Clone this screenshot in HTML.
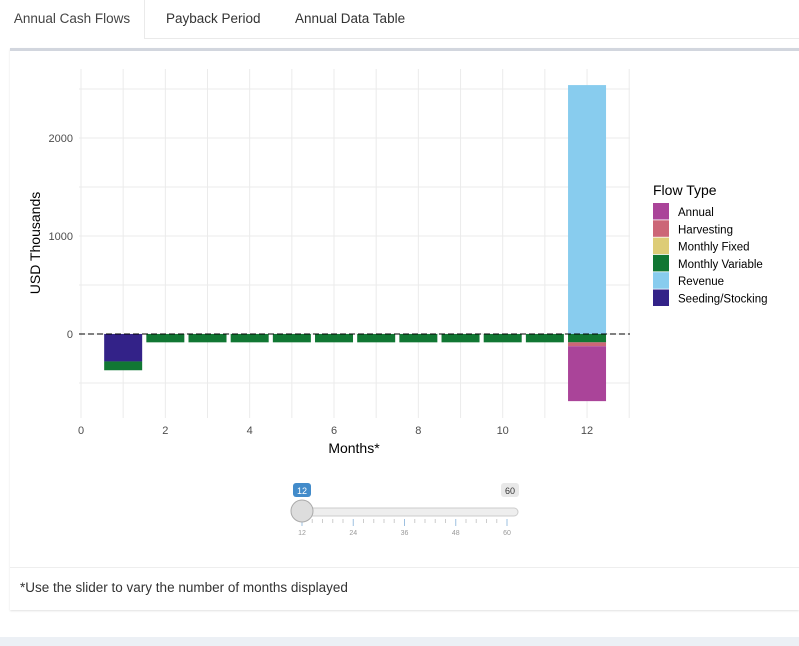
<!DOCTYPE html>
<html><head><meta charset="utf-8"><style>
body{margin:0;width:799px;height:646px;background:#fff;font-family:"Liberation Sans",sans-serif;position:relative;overflow:hidden}
.tab{position:absolute;top:0;height:38px;line-height:38px;font-size:13.5px;color:#333}
</style></head><body>
<div style="position:absolute;left:0;top:38px;width:799px;height:1px;background:#eaeaea"></div>
<div class="tab" style="left:0;width:144px;background:#fff;border-right:1px solid #eaeaea;height:39px;text-align:center;color:#444">Annual Cash Flows</div>
<div class="tab" style="left:166px">Payback Period</div>
<div class="tab" style="left:295px">Annual Data Table</div>
<div style="position:absolute;left:10px;top:48px;width:789px;height:559px;border-top:3px solid #d2d6de;box-shadow:0 1px 2px rgba(0,0,0,.12);background:#fff"></div>
<div style="position:absolute;left:10px;top:567px;width:789px;height:1px;background:#eee"></div>
<div style="position:absolute;left:20px;top:580px;font-size:13.5px;color:#333">*Use the slider to vary the number of months displayed</div>
<div style="position:absolute;left:0;top:637px;width:799px;height:9px;background:#ecf0f5"></div>
<svg id="chart" width="799" height="470" style="position:absolute;left:0;top:0"></svg>
<svg id="slider" width="799" height="60" style="position:absolute;left:0;top:480px">
<rect x="297" y="28" width="221" height="8" rx="4" fill="#eee" stroke="#ccc"/>
<rect x="293" y="3" width="18" height="14" rx="3" fill="#428bca"/>
<text x="302" y="14" font-size="9" fill="#fff" text-anchor="middle">12</text>
<rect x="501" y="3" width="18" height="14" rx="3" fill="#e8e8e8"/>
<text x="510" y="14" font-size="9" fill="#333" text-anchor="middle">60</text>
<g id="sticks"></g>
<circle cx="302" cy="31" r="11" fill="#ddd" stroke="#aaa"/>
</svg>
<script>
const months=[1,2,3,4,5,6,7,8,9,10,11,12];
const seeding=[-280,0,0,0,0,0,0,0,0,0,0,0];
const monthlyVariable=[-90,-85,-85,-85,-85,-85,-85,-85,-85,-85,-85,-85];
const harvesting=[0,0,0,0,0,0,0,0,0,0,0,-40];
const annual=[0,0,0,0,0,0,0,0,0,0,0,-560];
const revenue=[0,0,0,0,0,0,0,0,0,0,0,2540];
const yTicks=[0,1000,2000];
const xTicks=[0,2,4,6,8,10,12];
const NS="http://www.w3.org/2000/svg";
const svg=document.getElementById('chart');
const X=v=>81+v*42.17, Y=v=>334-v*0.098;
function el(t,a,p){const e=document.createElementNS(NS,t);for(const k in a)e.setAttribute(k,a[k]);(p||svg).appendChild(e);return e;}
const L=79,R=630,T=69,B=418;
for(let v=-500;v<=2500;v+=500){const g=el('line',{x1:L,x2:R,y1:Y(v),y2:Y(v),stroke:'#ebebeb'});}
for(let v=0;v<=13;v++){const g=el('line',{x1:X(v),x2:X(v),y1:T,y2:B,stroke:'#ebebeb'});}
yTicks.forEach(v=>{const t=el('text',{x:73,y:Y(v)+4,'font-size':11,fill:'#4d4d4d','text-anchor':'end'});t.textContent=v;});
xTicks.forEach(v=>{const t=el('text',{x:X(v),y:434,'font-size':11,fill:'#4d4d4d','text-anchor':'middle'});t.textContent=v;});
const series=[[seeding,'#332288'],[monthlyVariable,'#117733'],[harvesting,'#CC6677'],[annual,'#AA4499']];
months.forEach((m,i)=>{let neg=0;const x0=X(m)-19;
 series.forEach(([s,c])=>{const v=s[i];if(!v)return;const r=el('rect',{x:x0,width:38,y:Y(neg),height:Y(neg+v)-Y(neg),fill:c});neg+=v;});
 if(revenue[i]){const r=el('rect',{x:x0,width:38,y:Y(revenue[i]),height:Y(0)-Y(revenue[i]),fill:'#88CCEE'});}
});
const z=el('line',{x1:L,x2:R,y1:Y(0),y2:Y(0),stroke:'#000','stroke-dasharray':'6,3'});
const xt=el('text',{x:354,y:453,'font-size':14,fill:'#000','text-anchor':'middle'});xt.textContent='Months*';
const yt=el('text',{x:0,y:0,'font-size':14,fill:'#000','text-anchor':'middle',transform:'translate(40,243) rotate(-90)'});yt.textContent='USD Thousands';
const lt=el('text',{x:653,y:195,'font-size':14,fill:'#000'});lt.textContent='Flow Type';
const legend=[['Annual','#AA4499'],['Harvesting','#CC6677'],['Monthly Fixed','#DDCC77'],['Monthly Variable','#117733'],['Revenue','#88CCEE'],['Seeding/Stocking','#332288']];
legend.forEach(([n,c],i)=>{const y=203+i*17.3;const r=el('rect',{x:653,y:y,width:16,height:16.5,fill:c});const t=el('text',{x:678,y:y+13,'font-size':11.5,fill:'#000'});t.textContent=n;});
const st=document.getElementById('sticks');
const sv=[12,24,36,48,60];
for(let k=0;k<=20;k++){const x=302+k*10.25;const maj=k%5==0;el('line',{x1:x,x2:x,y1:39,y2:maj?46:43,stroke:maj?'#9ec0e0':'#ccc'},st);}
sv.forEach((v,k)=>{const t=el('text',{x:302+k*51.25,y:55,'font-size':7,fill:'#999','text-anchor':'middle'},st);t.textContent=v;});
</script>
</body></html>
